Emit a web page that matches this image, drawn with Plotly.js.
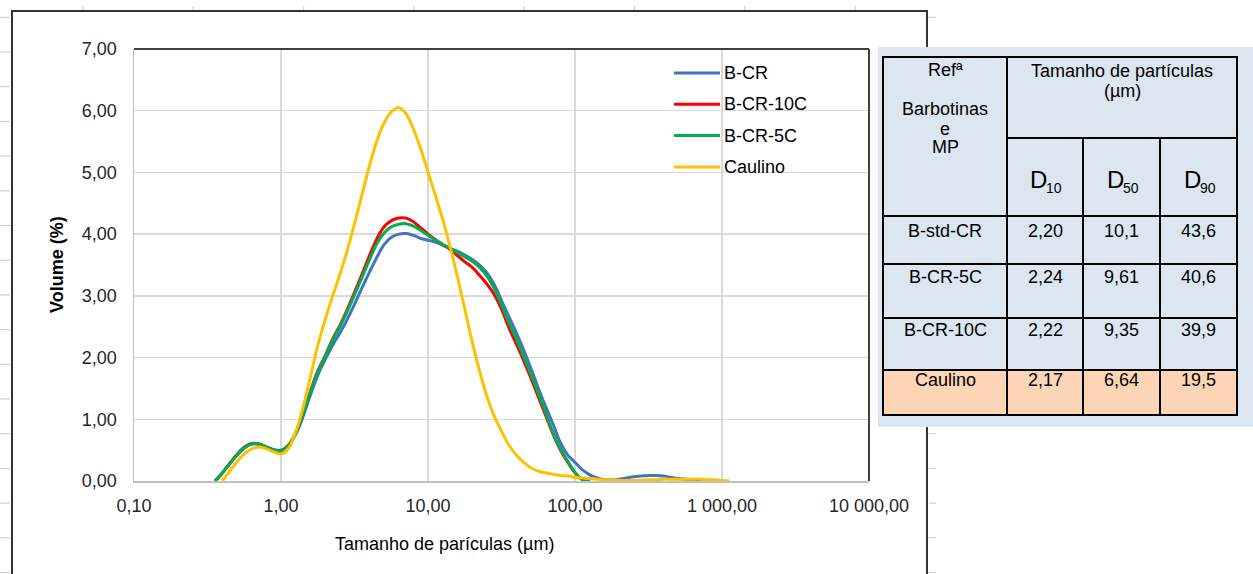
<!DOCTYPE html>
<html>
<head>
<meta charset="utf-8">
<script src="https://cdn.plot.ly/plotly-3.0.1.min.js"></script>
<style>
html,body{margin:0;padding:0;background:#fff;}
#chart{width:1253px;height:574px;}
</style>
</head>
<body>
<div id="chart"></div>
<script>
// ---- data ----
const sizes = [0.356,0.399,0.448,0.502,0.564,0.632,0.710,0.796,0.893,1.002,
  1.125,1.262,1.416,1.589,1.783,2.000,2.244,2.518,2.825,3.170,
  3.557,3.991,4.477,5.024,5.637,6.325,7.096,7.962,8.934,10.024,
  11.247,12.619,14.159,15.887,17.825,20.000,22.440,25.179,28.251,31.698,
  35.566,39.905,44.774,50.238,56.368,63.246,70.963,79.621,89.337,100.237,
  112.468,126.191,141.589,158.866,178.250,200.000,224.404,251.785,282.508,316.979,
  355.656,399.052,447.744,502.377,563.677,632.456,709.627,796.214,893.367,1002.374,1124.683];

const seriesNames = ['B-CR','B-CR-10C','B-CR-5C','Caulino'];

const bCR = [0,0.13,0.28,0.42,0.54,0.60,0.59,0.55,0.51,0.50,
  0.58,0.76,1.05,1.40,1.72,1.97,2.20,2.40,2.62,2.87,
  3.13,3.38,3.62,3.83,3.95,4.00,4.01,3.98,3.93,3.90,
  3.87,3.82,3.77,3.72,3.66,3.59,3.50,3.37,3.18,2.92,
  2.66,2.40,2.12,1.82,1.50,1.20,0.92,0.62,0.42,0.30,
  0.18,0.10,0.05,0.02,0.02,0.03,0.05,0.07,0.08,0.09,
  0.09,0.08,0.06,0.04,0.03,0.02,0.01,0];

const bCR10C = [0,0.13,0.29,0.43,0.55,0.61,0.60,0.55,0.50,0.48,
  0.58,0.78,1.10,1.46,1.79,2.03,2.30,2.52,2.78,3.06,
  3.35,3.65,3.92,4.12,4.22,4.26,4.26,4.20,4.10,4.00,
  3.91,3.83,3.75,3.65,3.55,3.46,3.33,3.19,3.02,2.78,
  2.48,2.22,1.95,1.66,1.36,1.06,0.76,0.50,0.30,0.13,
  0.02,0];

const bCR5C = [0,0.13,0.28,0.42,0.54,0.60,0.60,0.55,0.50,0.48,
  0.57,0.78,1.10,1.45,1.78,2.02,2.28,2.50,2.75,3.02,
  3.30,3.58,3.84,4.02,4.12,4.16,4.17,4.13,4.06,3.98,
  3.90,3.83,3.77,3.70,3.63,3.56,3.46,3.32,3.12,2.85,
  2.56,2.30,2.02,1.72,1.42,1.10,0.78,0.52,0.32,0.14,
  0.02,0];

const caulino = [null,0,0.16,0.31,0.44,0.52,0.55,0.52,0.47,0.44,
  0.53,0.80,1.20,1.70,2.20,2.62,3.00,3.35,3.74,4.18,
  4.64,5.10,5.50,5.80,5.98,6.05,5.95,5.70,5.38,5.00,
  4.62,4.23,3.79,3.30,2.78,2.25,1.78,1.37,1.05,0.80,
  0.58,0.42,0.30,0.21,0.16,0.13,0.11,0.09,0.08,0.06,
  0.05,0.04,0.03,0.02,0.02,0.01,0.01,0.01,0.01,0.02,
  0.02,0.03,0.03,0.03,0.03,0.03,0.03,0.02,0.02,0.01,0];

const seriesValues = [bCR, bCR10C, bCR5C, caulino];
const seriesColors = ['#4472c4','#ff0000','#00b050','#ffc000'];

const xTickVals = [0.1,1,10,100,1000,10000];
const yTickVals = [0,1,2,3,4,5,6,7];

// table
const tableRefs = ['B-std-CR','B-CR-5C','B-CR-10C','Caulino'];
const tableD10 = ['2,20','2,24','2,22','2,17'];
const tableD50 = ['10,1','9,61','9,35','6,64'];
const tableD90 = ['43,6','40,6','39,9','19,5'];
const tableDLabels = ['10','50','90'];

// ---- geometry helpers (pixel -> paper) ----
const PL = 134, PR = 869, PT = 49, PB = 481;
const px = x => (x - PL) / (PR - PL);
const py = y => (PB - y) / (PB - PT);
const FONT = 'Liberation Sans, Arial, sans-serif';

const traces = seriesValues.map((vals, i) => ({
  type: 'scatter', mode: 'lines',
  name: seriesNames[i],
  x: sizes.slice(0, vals.length),
  y: vals,
  line: {color: seriesColors[i], width: 3, shape: 'spline', smoothing: 1},
  cliponaxis: false,
  showlegend: false,
  hoverinfo: 'x+y+name'
}));

const shapes = [];
const annotations = [];
function line(x0, y0, x1, y1, color, width) {
  shapes.push({type: 'line', xref: 'paper', yref: 'paper',
    x0: px(x0), y0: py(y0), x1: px(x1), y1: py(y1),
    line: {color: color, width: width}});
}
function rect(x0, y0, x1, y1, fill) {
  shapes.push({type: 'rect', xref: 'paper', yref: 'paper',
    x0: px(x0), y0: py(y0), x1: px(x1), y1: py(y1),
    fillcolor: fill, line: {width: 0}});
}
function text(t, x, y, size, opts) {
  annotations.push(Object.assign({
    text: t, xref: 'paper', yref: 'paper', x: px(x), y: py(y),
    showarrow: false, xanchor: 'center', yanchor: 'middle',
    font: {family: FONT, size: size, color: '#000'}
  }, opts || {}));
}

// ruler-like ticks outside the chart frame
for (let k = 0; k < 17; k++) {
  const yy = 17.3 + 34.7 * k;
  line(0, yy, 10, yy, '#c8c8c8', 1);
  line(929, yy, 936, yy, '#c8c8c8', 1);
}
for (let k = 0; k < 8; k++) {
  const xx = 83 + 110.3 * k;
  line(xx, 6, xx, 11, '#c8c8c8', 1);
}
// chart frame
line(12, 11, 928, 11, '#333', 2);
line(12, 10, 12, 574, '#333', 2);
line(927, 10, 927, 574, '#333', 2);
// plot area dark top/right border
line(PL, PT, PR, PT, '#404040', 2);
line(PR, PT, PR, PB, '#404040', 2);

// legend (manual, Excel-like)
seriesNames.forEach((n, i) => {
  const yy = 73 + 31.3 * i;
  line(674, yy, 720, yy, seriesColors[i], 3);
  text(n, 722, yy, 18, {xanchor: 'left', font: {family: FONT, size: 18, color: '#000'}});
});

// axis titles
text('<b>Volume (%)</b>', 57, 265, 18, {textangle: -90, font: {family: FONT, size: 18, color: '#000'}});
text('Tamanho de parículas (µm)', 444, 544, 18);

// table panel
rect(878, 47, 1253, 427, '#dce6f1');
rect(883, 370, 1237, 415, '#fbd5b5');
const rows = [57, 216, 264, 318, 370, 415];
const TC = '#000';
line(883, 57, 1237, 57, TC, 2);
line(883, 415, 1237, 415, TC, 2);
line(883, 56, 883, 416, TC, 2);
line(1237, 56, 1237, 416, TC, 2);
line(1007, 56, 1007, 416, TC, 2);
line(1007, 138, 1237, 138, TC, 2);
line(1083, 138, 1083, 416, TC, 2);
line(1160, 138, 1160, 416, TC, 2);
for (let r = 1; r < rows.length - 1; r++) line(883, rows[r], 1237, rows[r], TC, 2);

text('Refª', 945, 70, 18);
text('Barbotinas', 945, 109, 18);
text('e', 945, 129, 18);
text('MP', 945, 147, 18);
text('Tamanho de partículas', 1122, 71, 18);
text('(µm)', 1122, 91, 18);
const dCenters = [1045, 1121.5, 1198.5];
tableDLabels.forEach((d, i) => {
  text('D', dCenters[i] + 4, 179, 24, {xanchor: 'right'});
  text(d, dCenters[i] - 1, 188, 14, {xanchor: 'left'});
});
const rowCenters = [231, 277, 330, 380];
tableRefs.forEach((r, i) => {
  const yy = rowCenters[i];
  text(r, 945, yy, 18);
  text(tableD10[i], 1045, yy, 18);
  text(tableD50[i], 1121.5, yy, 18);
  text(tableD90[i], 1198.5, yy, 18);
});

const axisCommon = {
  showgrid: true, gridcolor: '#d9d9d9', gridwidth: 1.5,
  showline: true, linecolor: '#c0c0c0', linewidth: 1.5,
  ticks: '', zeroline: false,
  tickfont: {family: FONT, size: 18, color: '#262626'},
  fixedrange: true
};

const layout = {
  width: 1253, height: 574,
  margin: {l: PL, r: 1253 - PR, t: PT, b: 574 - PB, pad: 0},
  paper_bgcolor: '#fff', plot_bgcolor: '#fff',
  separators: ', ',
  showlegend: false,
  xaxis: Object.assign({}, axisCommon, {
    type: 'log', range: [-1, 4], tickmode: 'array', tickvals: xTickVals,
    tickformat: ',.2f', ticklabelstandoff: 8
  }),
  yaxis: Object.assign({}, axisCommon, {
    range: [0, 7], tickmode: 'array', tickvals: yTickVals,
    tickformat: '.2f', ticklabelstandoff: 12
  }),
  shapes: shapes,
  annotations: annotations
};

Plotly.newPlot('chart', traces, layout, {displayModeBar: false, staticPlot: true});
</script>
</body>
</html>
